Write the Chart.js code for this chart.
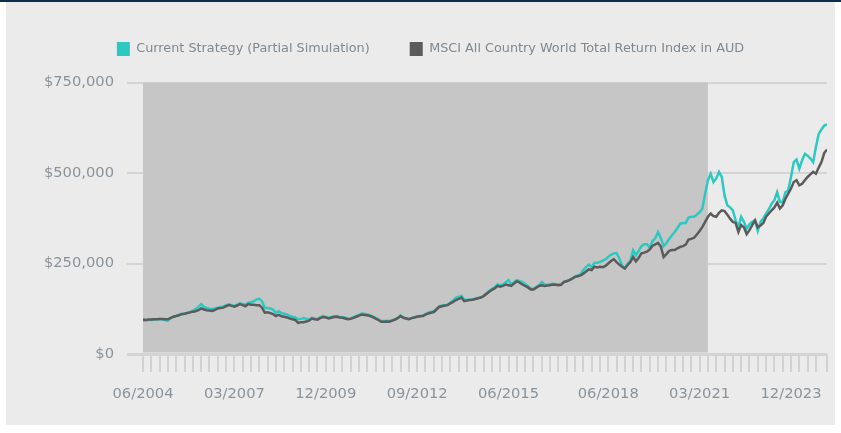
<!DOCTYPE html>
<html>
<head>
<meta charset="utf-8">
<script src="https://cdn.jsdelivr.net/npm/chart.js@4.4.1/dist/chart.umd.min.js"></script>
<style>
    html, body { margin: 0; padding: 0; background: #ffffff; }
    #wrap { position: relative; width: 841px; height: 433px; border-top: 2px solid #0c2e4b; box-sizing: border-box; }
    #panel { position: absolute; left: 6px; right: 6px; top: 0; bottom: 8px; background: #ebebeb; }
    #growthChart { position: absolute; left: 0; top: -2px; }
</style>
</head>
<body>
<div id="wrap">
    <div id="panel"></div>
    <canvas id="growthChart" width="841" height="433"></canvas>
</div>
<script>
// growth of $ invested, values in $ thousands, one per month from 06/2004
const strategy = [
    92, 93, 94, 94, 95, 96, 97, 96, 94, 92,
    99, 103, 105, 108, 111, 112, 114, 116, 120, 124,
    130, 138, 130, 127, 125, 124, 126, 128, 129, 131,
    135, 137, 135, 133, 136, 140, 138, 136, 142, 143,
    146, 150, 153, 145, 127, 127, 126, 122, 114, 118,
    113, 111, 109, 105, 103, 101, 96, 97, 99, 97,
    96, 100, 98, 97, 101, 105, 103, 100, 102, 104,
    105, 103, 102, 100, 98, 99, 102, 105, 108, 112,
    111, 109, 107, 104, 100, 96, 91, 91, 92, 91,
    93, 96, 100, 107, 101, 99, 96, 99, 102, 104,
    105, 106, 110, 114, 116, 118, 125, 132, 134, 135,
    136, 142, 148, 156, 158, 161, 150, 150, 150, 151,
    153, 155, 156, 161, 168, 174, 180, 184, 192, 190,
    192, 198, 204, 192, 198, 204, 201, 199, 193, 188,
    181, 180, 185, 190, 199, 192, 191, 193, 194, 193,
    192, 193, 199, 202, 205, 209, 214, 217, 220, 232,
    240, 247, 240, 252, 252, 254, 258, 261, 268, 274,
    278, 279, 264, 245, 238, 250, 258, 287, 273, 285,
    298, 303, 303, 294, 312, 320, 337, 320, 298, 306,
    318, 328, 337, 348, 360, 362, 362, 377, 379, 379,
    385, 392, 402, 443, 480, 498, 475, 485, 503, 489,
    438, 411, 405, 397, 369, 351, 379, 365, 346, 358,
    365, 369, 340, 365, 375, 388, 400, 415, 425, 447,
    420, 420, 447, 452, 489, 530, 537, 512, 535, 553,
    548, 540, 530, 572, 608, 620, 631, 634
];

const msci = [
    95, 94, 95, 95, 96, 96, 97, 97, 96, 96,
    100, 103, 105, 107, 110, 111, 113, 115, 117, 118,
    121, 126, 123, 121, 120, 119, 122, 126, 127, 128,
    132, 135, 133, 131, 134, 138, 135, 132, 138, 136,
    136, 135, 135, 128, 114, 115, 113, 110, 105, 108,
    104, 103, 101, 98, 96, 94, 86, 88, 88, 90,
    92, 98, 96, 95, 99, 102, 101, 98, 100, 102,
    103, 101, 100, 98, 96, 97, 100, 103, 106, 109,
    108, 107, 105, 102, 98, 94, 89, 89, 90, 89,
    92, 95, 99, 105, 100, 98, 96, 99, 101, 103,
    104, 105, 109, 112, 114, 116, 123, 130, 132, 134,
    135, 140, 144, 149, 152, 156, 146, 148, 149, 150,
    152, 154, 156, 160, 166, 172, 177, 181, 188, 186,
    188, 192, 190, 188, 195, 201, 197, 192, 188, 184,
    178, 178, 183, 188, 190, 188, 189, 190, 192, 191,
    190, 191, 199, 201, 204, 208, 213, 215, 217, 222,
    228, 234, 232, 241, 239, 241, 240, 243, 250, 257,
    262, 254, 247, 241, 236, 246, 254, 268, 256, 266,
    278, 280, 283, 289, 299, 303, 307, 297, 268, 276,
    285, 287, 287, 292, 296, 298, 302, 316, 318, 321,
    330, 340, 351, 365, 379, 388, 381, 379, 390, 397,
    395, 385, 374, 365, 362, 337, 356, 350, 331, 342,
    356, 369, 350, 355, 362, 379, 388, 397, 405, 418,
    402, 411, 429, 443, 457, 475, 480, 466, 470, 480,
    489, 496, 503, 498, 515, 530, 555, 565
];

const xTickLabels = ['06/2004', '03/2007', '12/2009', '09/2012', '06/2015', '06/2018', '03/2021', '12/2023'];
const simulationEnd = '06/2021';

// month labels for every data point
const months = [];
for (let i = 0; i < msci.length; i++) {
    const d = new Date(2004, 5 + i, 1);
    months.push(String(d.getMonth() + 1).padStart(2, '0') + '/' + d.getFullYear());
}

const labelColor = '#8a939b';
const gridColor = '#d4d4d4';

// grey box behind the simulated part of the history
const simulationBand = {
    id: 'simulationBand',
    beforeDatasetsDraw(chart) {
        const { ctx, chartArea, scales } = chart;
        const xEnd = scales.x.getPixelForValue(months.indexOf(simulationEnd));
        const yBottom = scales.y.getPixelForValue(0) - 1.5;
        ctx.save();
        ctx.fillStyle = '#c6c6c6';
        ctx.fillRect(chartArea.left, chartArea.top, xEnd - chartArea.left, yBottom - chartArea.top);
        ctx.restore();
    }
};

// legend takes the space above the plot
const legendSpace = {
    id: 'legendSpace',
    beforeInit(chart) {
        const originalFit = chart.legend.fit;
        chart.legend.fit = function fit() {
            originalFit.bind(chart.legend)();
            this.height = 80.5;
        };
    },
    afterLayout(chart) {
        chart.legend.left += 17;
        chart.legend.right += 17;
    }
};

Chart.defaults.font.family = "'DejaVu Sans', Verdana, sans-serif";

document.addEventListener('DOMContentLoaded', () => {
    const ctx = document.getElementById('growthChart').getContext('2d');
    new Chart(ctx, {
        type: 'line',
        data: {
            datasets: [{
                label: 'Current Strategy (Partial Simulation)',
                data: strategy.map((v, i) => ({ x: i, y: v * 1000 })),
                borderColor: '#2cc9c2',
                backgroundColor: '#2cc9c2',
                borderWidth: 2.5,
                pointRadius: 0,
                tension: 0,
                order: 1
            }, {
                label: 'MSCI All Country World Total Return Index in AUD',
                data: msci.map((v, i) => ({ x: i, y: v * 1000 })),
                borderColor: '#5b5b5b',
                backgroundColor: '#5b5b5b',
                borderWidth: 2.5,
                pointRadius: 0,
                tension: 0,
                order: 0
            }]
        },
        options: {
            responsive: false,
            animation: false,
            layout: {
                padding: { top: 2, right: 14, bottom: 0, left: 0 }
            },
            plugins: {
                legend: {
                    display: true,
                    position: 'top',
                    labels: {
                        boxWidth: 13,
                        boxHeight: 14,
                        padding: 40,
                        color: '#7f8991',
                        font: { size: 12.8 },
                        sort: (a, b) => a.datasetIndex - b.datasetIndex,
                        generateLabels: (chart) => Chart.defaults.plugins.legend.labels.generateLabels(chart)
                            .map(item => ({ ...item, lineWidth: 0 }))
                    }
                },
                tooltip: { enabled: false }
            },
            scales: {
                x: {
                    type: 'linear',
                    min: 0,
                    max: msci.length - 1,
                    afterFit: (scale) => { scale.height = 79; },
                    border: { display: false },
                    grid: {
                        drawOnChartArea: false,
                        drawTicks: true,
                        tickLength: 18,
                        tickColor: '#d2d2d2',
                        lineWidth: 2
                    },
                    ticks: {
                        stepSize: 3,
                        autoSkip: false,
                        maxRotation: 0,
                        padding: 13,
                        color: labelColor,
                        font: { size: 14.7 },
                        callback: (value) => xTickLabels.includes(months[value]) ? months[value] : ''
                    }
                },
                y: {
                    min: 0,
                    max: 750000,
                    afterFit: (scale) => { scale.width = 143; },
                    border: { display: false },
                    grid: {
                        color: gridColor,
                        tickColor: gridColor,
                        tickLength: 16,
                        lineWidth: (c) => c.tick && c.tick.value === 0 ? 3 : 2
                    },
                    ticks: {
                        stepSize: 250000,
                        padding: 13,
                        color: labelColor,
                        font: { size: 14.7 },
                        callback: (value) => '$' + value.toLocaleString('en-US')
                    }
                }
            }
        },
        plugins: [simulationBand, legendSpace]
    });
});
</script>
</body>
</html>
